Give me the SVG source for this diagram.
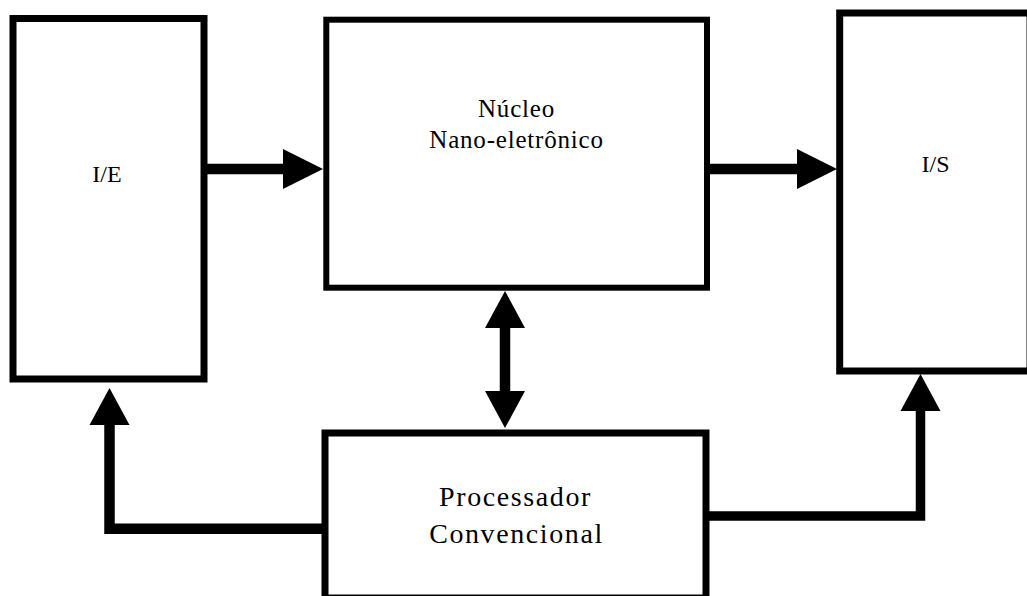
<svg xmlns="http://www.w3.org/2000/svg" width="1027" height="596" viewBox="0 0 1027 596">
  <style>
    .box { fill: #ffffff; stroke: #000000; stroke-width: 7; }
    .lbl { font-family: "Liberation Serif", "DejaVu Serif", serif; fill: #000000; text-anchor: middle; }
    .wire { fill: none; stroke: #000000; stroke-width: 10.5; stroke-linejoin: miter; }
  </style>
  <defs>
    <!-- solid triangular heads; the path ends at the base, the tip extends forward -->
    <marker id="headH" markerUnits="userSpaceOnUse" viewBox="0 -20 40 40" markerWidth="40" markerHeight="40" refX="0" refY="0" orient="auto-start-reverse" overflow="visible">
      <path d="M0,-20 L40,0 L0,20 Z" fill="#000000"/>
    </marker>
    <marker id="headV" markerUnits="userSpaceOnUse" viewBox="0 -20 37 40" markerWidth="37" markerHeight="40" refX="0" refY="0" orient="auto-start-reverse" overflow="visible">
      <path d="M0,-20 L37,0 L0,20 Z" fill="#000000"/>
    </marker>
  </defs>
  <rect width="1027" height="596" fill="#ffffff"/>

  <g id="connectors">
    <path class="wire" d="M207,169 H283" marker-end="url(#headH)"/>
    <path class="wire" d="M708,169 H797" marker-end="url(#headH)"/>
    <path class="wire" d="M505,328 V391" marker-start="url(#headV)" marker-end="url(#headV)"/>
    <path class="wire" d="M323,528.7 H109.5 V425" marker-end="url(#headV)"/>
    <path class="wire" style="stroke-width:9.5" d="M708,516 H920.5 V411" marker-end="url(#headV)"/>
  </g>

  <g id="ie">
    <rect class="box" x="13" y="18.5" width="191" height="360.5"/>
    <text class="lbl" x="107" y="181.5" font-size="24" font-family="Liberation Serif, serif">I/E</text>
  </g>

  <g id="nucleo">
    <rect class="box" style="stroke-width:6" x="326.3" y="19.7" width="380.7" height="268"/>
    <text class="lbl" x="516.5" y="116.7" font-size="25" letter-spacing="0.8">Núcleo</text>
    <text class="lbl" x="516.5" y="148.3" font-size="25" letter-spacing="0.8">Nano-eletrônico</text>
  </g>

  <g id="is">
    <rect class="box" x="839.7" y="13" width="190.3" height="358"/>
    <text class="lbl" x="935.5" y="172.3" font-size="24">I/S</text>
  </g>

  <g id="processador">
    <rect class="box" x="325" y="433" width="381" height="165"/>
    <text class="lbl" x="515.5" y="506" font-size="28" letter-spacing="1.6">Processador</text>
    <text class="lbl" x="516.5" y="542.7" font-size="28" letter-spacing="1.6">Convencional</text>
  </g>
</svg>
